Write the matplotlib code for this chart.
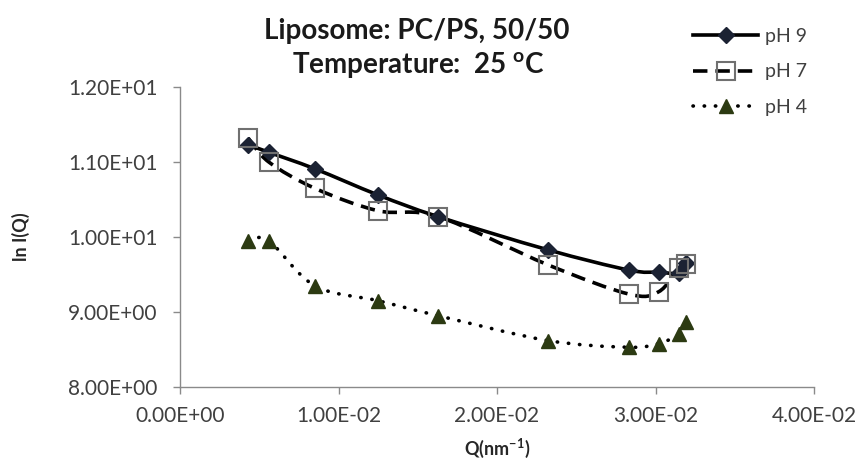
import matplotlib
matplotlib.use("Agg")
import matplotlib.pyplot as plt
import numpy as np
from matplotlib.path import Path
from matplotlib.patches import PathPatch
from matplotlib.lines import Line2D

plt.rcParams['font.family'] = ['Lato', 'DejaVu Sans']
plt.rcParams['mathtext.default'] = 'regular'

# scattering vector Q (nm^-1) and ln I(Q) for each pH
q = [0.0043, 0.0056, 0.0085, 0.0125, 0.0163, 0.0232, 0.0283, 0.0302, 0.0315, 0.0319]
ph9 = [11.23, 11.13, 10.91, 10.56, 10.27, 9.83, 9.56, 9.53, 9.52, 9.65]
ph7 = [11.32, 11.00, 10.65, 10.35, 10.27, 9.63, 9.24, 9.27, 9.59, 9.64]
ph4 = [9.95, 9.95, 9.35, 9.15, 8.95, 8.62, 8.53, 8.58, 8.71, 8.87]

labels = ['pH 9', 'pH 7', 'pH 4']
xticks = [0.0, 0.01, 0.02, 0.03, 0.04]
yticks = [8.0, 9.0, 10.0, 11.0, 12.0]


def smooth_path(x, y):
    """Bezier curve through the points, same idea as a spreadsheet 'smoothed line'."""
    pts = np.column_stack([x, y])
    n = len(pts)
    verts = [pts[0]]
    codes = [Path.MOVETO]
    for i in range(n - 1):
        p0 = pts[i - 1] if i > 0 else pts[i]
        p1 = pts[i]
        p2 = pts[i + 1]
        p3 = pts[i + 2] if i + 2 < n else pts[i + 1]
        c1 = p1 + (p2 - p0) / 6.0
        c2 = p2 - (p3 - p1) / 6.0
        verts += [c1, c2, p2]
        codes += [Path.CURVE4] * 3
    return Path(verts, codes)


def scientific(v, pos):
    return '%.2E' % v


fig = plt.figure(figsize=(8.61, 4.65), dpi=100)
ax = fig.add_axes([180 / 861, 1 - 387 / 465, (814 - 180) / 861, 300 / 465])

series = [
    (ph9, dict(dashes=None, capstyle='butt'), dict(marker='D', ms=8, mfc='#1b2233', mec='#1b2233', mew=1)),
    (ph7, dict(dashes=(4, 2.2), capstyle='butt'), dict(marker='s', ms=13, mfc='none', mec='#707070', mew=1.5)),
    (ph4, dict(dashes=(0.1, 3.0), capstyle='round'), dict(marker='^', ms=10, mfc='#2c3a12', mec='#2c3a12', mew=1)),
]

handles = []
for (vals, lstyle, mstyle), lab in zip(series, labels):
    patch = PathPatch(smooth_path(q, vals), facecolor='none', edgecolor='black',
                      lw=2.6, capstyle=lstyle['capstyle'], zorder=2)
    if lstyle['dashes'] is not None:
        patch.set_linestyle((0, lstyle['dashes']))
    ax.add_patch(patch)
    ax.plot(q, vals, ls='none', zorder=3, **mstyle)
    h = Line2D([], [], color='black', lw=2.6, ls='-', **mstyle)
    if lstyle['dashes'] is not None:
        h.set_dashes(lstyle['dashes'])
        h.set_dash_capstyle(lstyle['capstyle'])
    handles.append(h)

ax.set_xlim(0, 0.04)
ax.set_ylim(8, 12)
ax.set_xticks(xticks)
ax.set_yticks(yticks)
ax.xaxis.set_major_formatter(matplotlib.ticker.FuncFormatter(scientific))
ax.yaxis.set_major_formatter(matplotlib.ticker.FuncFormatter(scientific))

for side in ['top', 'right']:
    ax.spines[side].set_visible(False)
for side in ['left', 'bottom']:
    ax.spines[side].set_color('#8a8a8a')
    ax.spines[side].set_linewidth(1.0)
ax.tick_params(axis='both', direction='out', length=5, width=1.0, color='#8a8a8a',
               labelsize=15, labelcolor='#404040')
ax.tick_params(axis='y', pad=11)
ax.tick_params(axis='x', pad=9)

ax.set_xlabel('Q(nm$^{-1}$)', fontsize=13, fontweight='bold', color='#262626')
ax.xaxis.set_label_coords(0.5, -0.165)
ax.set_ylabel('ln I(Q)', fontsize=13, fontweight='bold', color='#262626')
ax.yaxis.set_label_coords(-0.237, 0.5)

fig.text(417 / 861, 1 - 31 / 465, 'Liposome: PC/PS, 50/50', ha='center', va='center',
         fontsize=20, fontweight='bold', color='#1a1a1a')
fig.text(418 / 861, 1 - 65 / 465, 'Temperature:  25 $^{o}$C', ha='center', va='center',
         fontsize=20, fontweight='bold', color='#1a1a1a')

leg = fig.legend(handles, labels, loc='upper left', bbox_to_anchor=(693 / 861, 1 - 28 / 465),
                 bbox_transform=fig.transFigure, frameon=False, fontsize=14,
                 handlelength=3.35, handletextpad=0.36, labelspacing=0.95,
                 borderpad=0, borderaxespad=0)
for t in leg.get_texts():
    t.set_color('#404040')

fig.savefig('out.png', dpi=100, facecolor='white')
